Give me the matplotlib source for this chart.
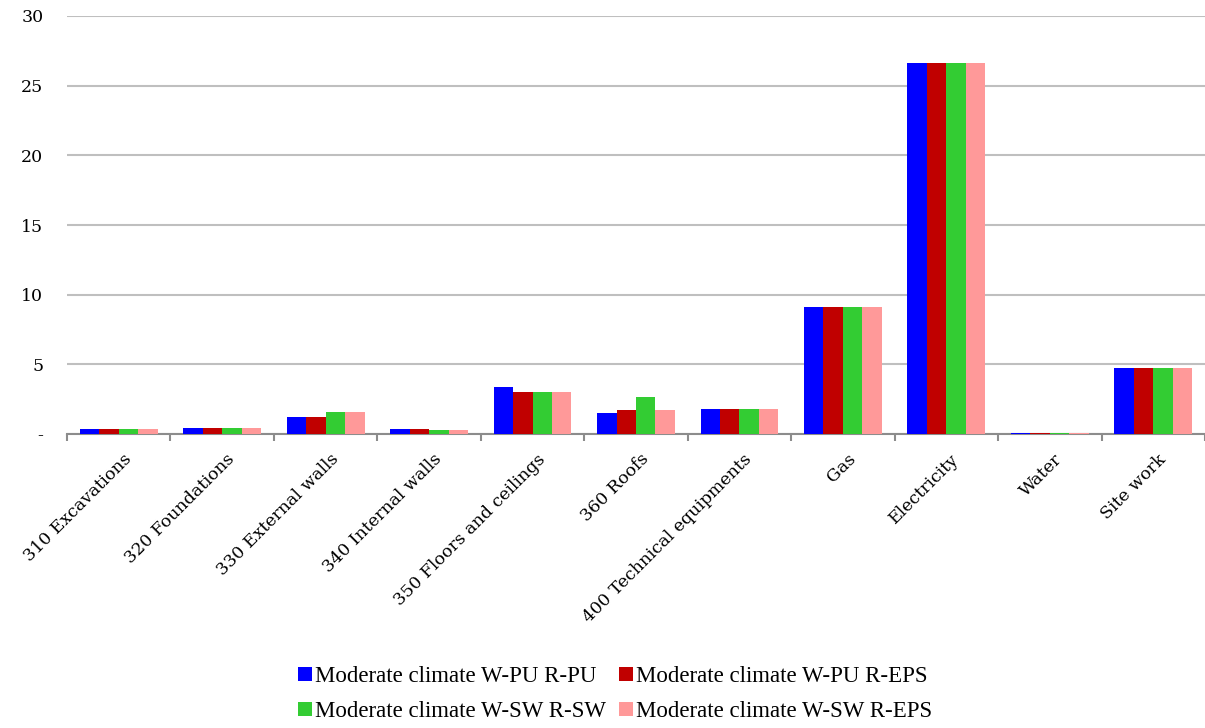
import matplotlib
matplotlib.use("Agg")
import matplotlib.pyplot as plt
import numpy as np

categories = ["310 Excavations", "320 Foundations", "330 External walls", "340 Internal walls",
              "350 Floors and ceilings", "360 Roofs", "400 Technical equipments", "Gas",
              "Electricity", "Water", "Site work"]
series_names = ["Moderate climate W-PU R-PU", "Moderate climate W-PU R-EPS",
                "Moderate climate W-SW R-SW", "Moderate climate W-SW R-EPS"]
w_pu_r_pu = [0.35, 0.40, 1.24, 0.33, 3.35, 1.53, 1.77, 9.12, 26.6, 0.08, 4.74]
w_pu_r_eps = [0.35, 0.40, 1.24, 0.33, 3.04, 1.70, 1.77, 9.12, 26.6, 0.08, 4.74]
w_sw_r_sw = [0.35, 0.40, 1.56, 0.30, 3.04, 2.63, 1.77, 9.12, 26.6, 0.08, 4.74]
w_sw_r_eps = [0.35, 0.40, 1.56, 0.30, 3.04, 1.70, 1.77, 9.12, 26.6, 0.08, 4.74]
colors = ["#0000FF", "#C00000", "#33CC33", "#FF9999"]
yticks = [0, 5, 10, 15, 20, 25, 30]
ytick_labels = ["-", "5", "10", "15", "20", "25", "30"]

plt.rcParams['font.family'] = ['DejaVu Serif']

fig = plt.figure(figsize=(12.05, 7.28), dpi=100)
ax = fig.add_axes([67/1205, 1-434/728, 1-67/1205, (434-16)/728])

data = [w_pu_r_pu, w_pu_r_eps, w_sw_r_sw, w_sw_r_eps]
x = np.arange(len(categories))
bw = 0.188
for i, (vals, c, name) in enumerate(zip(data, colors, series_names)):
    ax.bar(x + (i - 1.5) * bw, vals, width=bw, color=c, label=name, zorder=3)

ax.set_xlim(-0.5, len(categories) - 0.5)
ax.set_ylim(0, 30)
ax.set_yticks(yticks)
ax.set_yticklabels(ytick_labels, fontsize=12.5)
ax.yaxis.grid(True, color="#BFBFBF", linewidth=1.5, zorder=0)
ax.tick_params(axis='y', length=0, pad=17)

ax.set_xticks(x + 0.04)
ax.set_xticklabels(categories, rotation=45, ha='right', rotation_mode='anchor', fontsize=12.5)
ax.set_xticks(np.arange(-0.5, len(categories)), minor=True)
ax.tick_params(axis='x', which='major', length=0, pad=12)
ax.tick_params(axis='x', which='minor', length=5, color="#8C8C8C", width=1.5)

for s in ['top', 'right', 'left']:
    ax.spines[s].set_visible(False)
ax.spines['bottom'].set_color("#8C8C8C")
ax.spines['bottom'].set_linewidth(1.5)

handles, labels = ax.get_legend_handles_labels()
order = [0, 2, 1, 3]
fig.legend([handles[k] for k in order], [labels[k] for k in order], ncol=2, loc='center',
           bbox_to_anchor=(615/1205, 1-694/728),
           frameon=False, prop={'family': 'Liberation Serif', 'size': 16.5},
           handlelength=0.6, handleheight=0.6,
           handletextpad=0.12, columnspacing=0.6, labelspacing=0.62,
           borderpad=0.2)

fig.savefig("out.png", dpi=100)
